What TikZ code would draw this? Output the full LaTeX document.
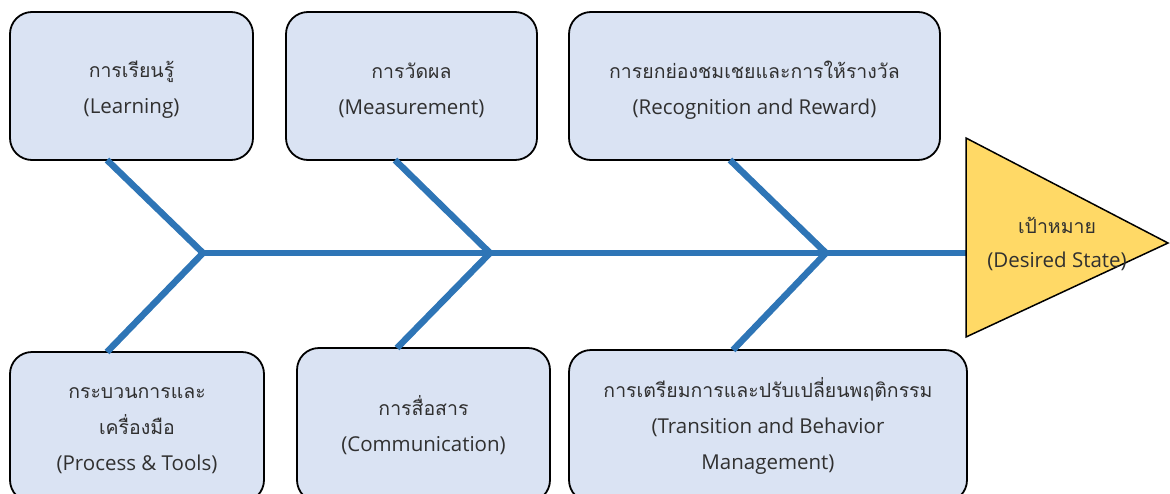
\documentclass[tikz,border=0pt]{standalone}
\usepackage{fontspec}
\setmainfont{Open Sans}
\newfontfamily\thaifont[Script=Thai,Scale=0.95]{Loma}
\definecolor{boxfill}{HTML}{DAE3F3}
\definecolor{bone}{HTML}{2E75B6}
\definecolor{goalfill}{HTML}{FFD966}
\definecolor{txt}{HTML}{303030}
\tikzset{
  factor/.style={draw=black, line width=1.8pt, fill=boxfill, rounded corners=22pt, inner sep=0pt},
  factortext/.style={align=center, text=txt, font=\fontsize{20.5}{36}\selectfont, inner sep=0pt},
  boneline/.style={draw=bone, line width=6.5pt},
}
\begin{document}
\begin{tikzpicture}[x=1pt,y=-1pt]
\useasboundingbox (0,0) rectangle (1170,493);
% top boxes
\node[factor, minimum width=243pt, minimum height=148pt] (learn) at (131.5,86) {};
\node[factortext] (learnT) at ([yshift=-4pt]learn.center) {{\thaifont การเรียนรู้}\\(Learning)};
\node[factor, minimum width=251pt, minimum height=148pt] (meas) at (411.5,86) {};
\node[factortext] (measT) at ([yshift=-4pt]meas.center) {{\thaifont การวัดผล}\\(Measurement)};
\node[factor, minimum width=371pt, minimum height=148pt] (recog) at (754.5,86) {};
\node[factortext] (recogT) at ([yshift=-4pt]recog.center) {{\thaifont การยกย่องชมเชยและการให้รางวัล}\\(Recognition and Reward)};
% bottom boxes
\node[factor, minimum width=254pt, minimum height=150pt] (proc) at (137,427) {};
\node[factortext] (procT) at ([yshift=-4pt]proc.center) {{\thaifont กระบวนการและ}\\{\thaifont เครื่องมือ}\\(Process \& Tools)};
\node[factor, minimum width=253pt, minimum height=154pt] (comm) at (423.5,425) {};
\node[factortext] (commT) at (comm.center) {{\thaifont การสื่อสาร}\\(Communication)};
\node[factor, minimum width=398pt, minimum height=152pt] (trans) at (768,426) {};
\node[factortext] (transT) at (trans.center) {{\thaifont การเตรียมการและปรับเปลี่ยนพฤติกรรม}\\(Transition and Behavior\\Management)};
% goal
\coordinate (tA) at (966,138);
\coordinate (tB) at (1168,243);
\coordinate (tC) at (966,337);
% junctions and bone ends
\coordinate (j1) at (203,253);
\coordinate (j2) at (490,253);
\coordinate (j3) at (826,253);
\coordinate (a1) at (107,160);
\coordinate (b1) at (107,352);
\coordinate (a2) at (395,160);
\coordinate (b2) at (397,348);
\coordinate (a3) at (730,160);
\coordinate (b3) at (733,350);
\coordinate (spineEnd) at (966,253);
\draw[boneline] (a1) -- (j1) -- (b1);
\draw[boneline] (a2) -- (j2) -- (b2);
\draw[boneline] (a3) -- (j3) -- (b3);
\draw[boneline] (j1) -- (spineEnd);
\draw[fill=goalfill, draw=black, line width=1.5pt, line join=miter] (tA) -- (tB) -- (tC) -- cycle;
\node[align=center, text=txt, font=\fontsize{20.5}{34}\selectfont, inner sep=0pt] (goal) at (1057,244) {{\thaifont เป้าหมาย}\\(Desired State)};
\end{tikzpicture}
\end{document}
